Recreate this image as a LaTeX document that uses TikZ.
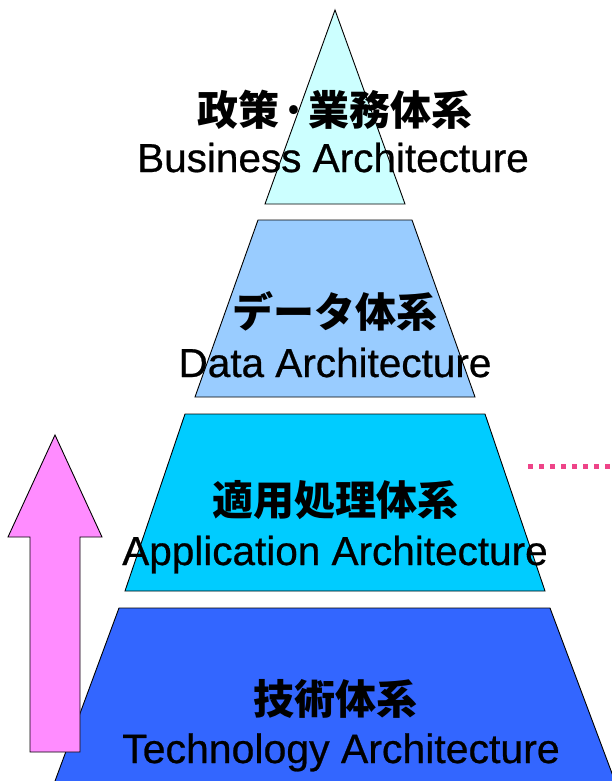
\documentclass[tikz,border=0pt]{standalone}
\usepackage{fontspec}
\setmainfont{Liberation Sans}[FakeBold=0.6]
\newfontfamily\jp{Noto Sans CJK JP}
\definecolor{bizfill}{HTML}{CCFFFF}
\definecolor{datafill}{HTML}{99CCFF}
\definecolor{appfill}{HTML}{00CCFF}
\definecolor{techfill}{HTML}{3366FF}
\definecolor{arrowfill}{HTML}{FF8CFF}
\definecolor{dotpink}{HTML}{EE4488}
\begin{document}
\begin{tikzpicture}[x=1bp,y=-1bp,
  layer/.style={draw=black,line width=0.9bp,line join=miter},
  jptext/.style={font=\jp\bfseries\fontsize{41bp}{41bp}\selectfont,inner sep=0pt},
  entext/.style={font=\fontsize{40.5bp}{40.5bp}\selectfont,inner sep=0pt,anchor=base}]
\useasboundingbox (0,0) rectangle (612,781);
\begin{scope}
\clip (0,0) rectangle (612,781);
% pyramid layers, top to bottom
\path[layer,fill=bizfill] (335,10) -- (405,204) -- (265,204) -- cycle;
\path[layer,fill=datafill] (258,220) -- (412,220) -- (475,397) -- (195,397) -- cycle;
\path[layer,fill=appfill] (185,414) -- (485,414) -- (545,591) -- (125,591) -- cycle;
\path[layer,fill=techfill] (119,608) -- (550,608) -- (622,800) -- (48,800) -- cycle;
% upward arrow
\path[layer,fill=arrowfill] (55,435) -- (102,537) -- (80,537) -- (80,752)
  -- (30,752) -- (30,537) -- (8,537) -- cycle;
% dotted lead-out on the right
\coordinate (dotA) at (528,466);
\coordinate (dotB) at (616,466);
\draw[dotpink,line width=5bp,dash pattern=on 5bp off 6bp] (dotA) -- (dotB);
\end{scope}
% labels
\node[jptext] (bizjp) at (335,110) {政策\kern2bp·\kern2bp業務体系};
\node[entext] (biz) at (333,172) {Business Architecture};
\node[jptext] (datajp) at (335,311) {データ体系};
\node[entext] (data) at (335,377) {Data Architecture};
\node[jptext] (appjp) at (335,500) {適用処理体系};
\node[entext] (app) at (335,565) {Application Architecture};
\node[jptext] (techjp) at (335,699) {技術体系};
\node[entext,font=\fontsize{41bp}{41bp}\selectfont] (tech) at (341,763) {Technology Architecture};
\end{tikzpicture}
\end{document}
